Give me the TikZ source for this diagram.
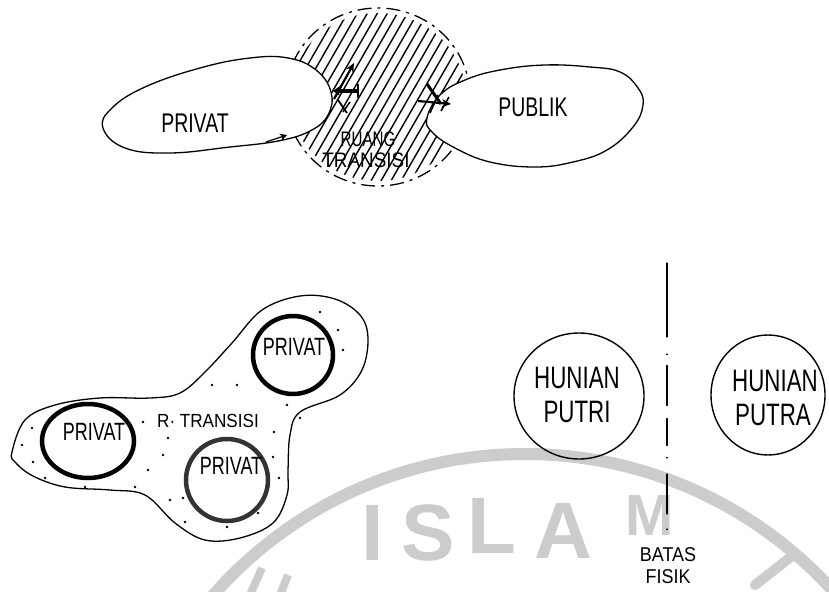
\documentclass[tikz,border=0pt]{standalone}
\usepackage{fontspec}
\setmainfont{Liberation Sans}
\newfontfamily\hand[FakeStretch=0.72]{Liberation Sans}
\newfontfamily\handw[FakeStretch=0.9]{Liberation Sans}
\newfontfamily\wmfont{Liberation Sans}
\usetikzlibrary{arrows.meta}
\begin{document}
\begin{tikzpicture}[x=1pt,y=-1pt,
  blob/.style={draw=black, line width=1.3pt, line join=round},
  thickring/.style={draw=black, line width=4.5pt, fill=white},
  thinring/.style={draw=black, line width=1.4pt},
  lbl/.style={inner sep=0pt, text=black},
  wmline/.style={draw=black!20, line width=12pt},
  wmtext/.style={text=black!20, font=\wmfont\bfseries\fontsize{80}{80}\selectfont, inner sep=0pt, anchor=base},
  hatchline/.style={line width=1.4pt},
  transdash/.style={draw, line width=1.3pt, dash pattern=on 14pt off 6pt on 3pt off 6pt},
  arrowmark/.style={line width=2.2pt, -{Stealth[length=9pt,width=8pt]}},
  dotfill/.style={fill=black, draw=none},
  sep/.style={draw, line width=1.3pt, line cap=round,
     dash pattern=on 74pt off 17pt on 0.5pt off 11pt on 40pt off 13pt on 27pt off 12pt on 0.5pt off 16pt on 40pt off 15pt on 0.5pt off 20pt}
]
\useasboundingbox (0,0) rectangle (829,591);
\fill[white] (0,0) rectangle (829,591);

% ---------- watermark ----------
\begin{scope}
\clip (0,0) rectangle (829,591);
\draw[wmline] (525,869) circle[radius=415];
\draw[wmline, line width=10pt, line cap=round] (792,556) -- (755,585);
\draw[wmline, line width=8pt] (262,568) -- (250,595);
\draw[wmline, line width=8pt] (288,575) -- (280,595);
\end{scope}
\node[wmtext] (wI) at (373,560) {I};
\node[wmtext] (wS) at (428,560) {S};
\node[wmtext] (wL) at (492,553) {L};
\node[wmtext] (wA) at (563,558) {A};
\node[wmtext, font=\wmfont\bfseries\fontsize{58}{58}\selectfont] (wM) at (650,535) {M};

% ---------- top: transition zone ----------
\coordinate (tz) at (378,97);
\begin{scope}
\clip (tz) ellipse[x radius=88, y radius=84];
\foreach \i in {0,...,20} { \draw[hatchline] (220+10*\i,200) -- ++(115,-200); }
\end{scope}
\draw[transdash] (tz) ellipse[x radius=92, y radius=89];

\draw[blob, fill=white] plot[smooth cycle, tension=0.7] coordinates {
 (103,128) (112,108) (145,87) (200,68) (250,58) (288,58) (316,70) (331,92)
 (328,115) (310,131) (278,141) (230,147) (170,153) (125,148)};
\draw[blob, fill=white] plot[smooth cycle, tension=0.7] coordinates {
 (427,118) (440,95) (465,80) (500,70) (545,65) (590,67) (620,72) (638,88)
 (643,105) (633,127) (607,150) (573,162) (535,167) (490,162) (455,148) (432,132)};

\node[lbl, font=\hand\fontsize{27}{29}\selectfont] (tprivat) at (195,123) {PRIVAT};
\node[lbl, font=\hand\fontsize{27}{29}\selectfont] (tpublik) at (533,107) {PUBLIK};
\node[lbl, font=\hand\fontsize{21}{23}\selectfont] (truang) at (368,139) {RUANG};
\node[lbl, font=\handw\fontsize{21}{23}\selectfont] (ttrans) at (366,160) {TRANSISI};

% arrow marks
\coordinate (p1) at (334,99);  \coordinate (p2) at (354,63);
\coordinate (p3) at (358,91);  \coordinate (p4) at (333,91);
\coordinate (p5) at (418,101); \coordinate (p6) at (451,104);
\coordinate (p7) at (427,84);  \coordinate (p8) at (441,104);
\coordinate (p9) at (266,142); \coordinate (p10) at (287,135);
\draw[arrowmark] (p1) -- (p2);
\draw[line width=4pt, {Stealth[length=7pt,width=10pt]}-] (p4) -- (p3);
\draw[line width=1.8pt] ([yshift=-7]p3) -- ([yshift=7]p3);
\draw[line width=1.8pt] (338,100) -- (347,113);
\draw[line width=1.5pt] (343,112) -- (350,102);
\draw[arrowmark] (p5) -- (p6);
\draw[line width=3pt] (p7) -- (p8);
\draw[line width=1.6pt] (430,113) -- (438,95);
\draw[line width=1.6pt] (441,111) -- (449,97);
\draw[line width=1.2pt, -{Stealth[length=7pt,width=7pt]}] (p9) -- (p10);

% ---------- bottom left: transition region ----------
\draw[blob] plot[smooth cycle, tension=0.6] coordinates {
 (12,452) (25,420) (55,405) (100,398) (150,398) (180,393) (205,372) (232,343)
 (262,310) (300,296) (335,299) (360,315) (368,338) (362,370) (340,395) (300,412)
 (290,435) (288,470) (287,495) (273,523) (240,538) (205,540) (175,523) (145,495)
 (110,490) (65,487) (33,476) (15,462)};
\foreach \p in {(320,312),(338,330),(343,350),(318,378),(287,405),(212,385),(237,385),
  (143,422),(168,438),(163,455),(148,470),(135,487),(170,500),(183,498),(185,522),
  (227,527),(258,513),(273,457),(279,478),(274,432),(32,428),(22,445),(33,462),
  (45,478),(85,487),(300,418)}
  { \fill[dotfill] \p circle[radius=1.4]; }

\draw[thickring] (293,355) ellipse[x radius=40, y radius=39];
\draw[thickring] (88,441) ellipse[x radius=46, y radius=37];
\draw[thickring, draw=black!80] (227,480) ellipse[x radius=41, y radius=41];

\node[lbl, font=\hand\fontsize{25}{27}\selectfont] (bp1) at (294,347) {PRIVAT};
\node[lbl, font=\hand\fontsize{25}{27}\selectfont] (bp2) at (94,432) {PRIVAT};
\node[lbl, font=\hand\fontsize{25}{27}\selectfont] (bp3) at (231,466) {PRIVAT};
\node[lbl, font=\handw\fontsize{19}{21}\selectfont] (rtr) at (208,421) {R· TRANSISI};

% ---------- bottom right ----------
\draw[thinring] (579,396) ellipse[x radius=65, y radius=63];
\draw[thinring] (768,395) ellipse[x radius=57, y radius=60];
\node[lbl, font=\hand\fontsize{31}{33}\selectfont] (hu1) at (577,378) {HUNIAN};
\node[lbl, font=\hand\fontsize{31}{33}\selectfont] (pi1) at (577,412) {PUTRI};
\node[lbl, font=\hand\fontsize{31}{33}\selectfont] (hu2) at (775,381) {HUNIAN};
\node[lbl, font=\hand\fontsize{31}{33}\selectfont] (pa2) at (773,415) {PUTRA};

\coordinate (sepTop) at (667,263);
\coordinate (sepBot) at (667,534);
\draw[sep] (sepTop) -- (sepBot);
\node[lbl, font=\handw\fontsize{20}{22}\selectfont] (batas) at (668,555) {BATAS};
\node[lbl, font=\handw\fontsize{20}{22}\selectfont] (fisik) at (668,577) {FISIK};
\end{tikzpicture}
\end{document}
